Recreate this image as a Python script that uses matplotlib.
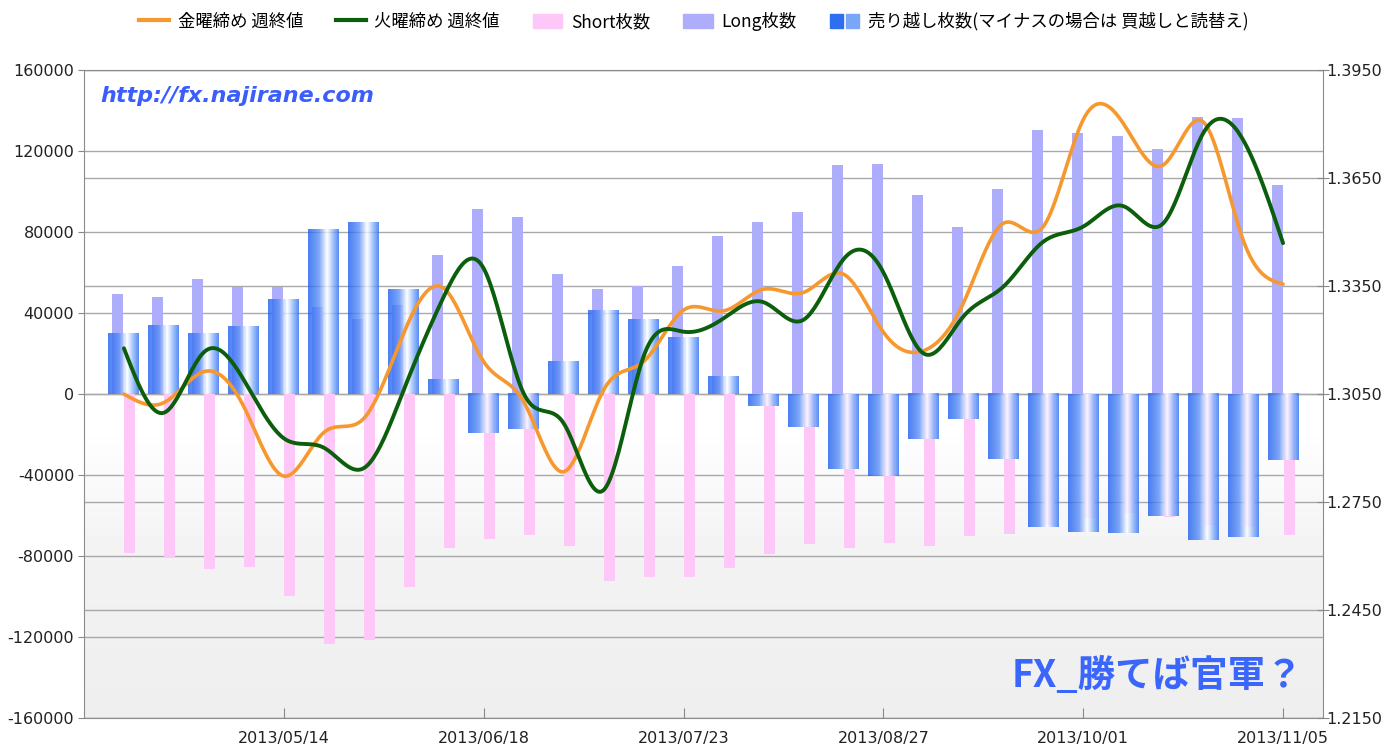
import numpy as np
import matplotlib
matplotlib.use("Agg")
import matplotlib.pyplot as plt
from matplotlib.colors import LinearSegmentedColormap
from matplotlib.lines import Line2D
from matplotlib.patches import Patch
from matplotlib.legend_handler import HandlerTuple

plt.rcParams['font.family'] = ['Noto Sans CJK JP', 'DejaVu Sans']

dates = ["2013/04/16", "2013/04/23", "2013/04/30", "2013/05/07", "2013/05/14",
         "2013/05/21", "2013/05/28", "2013/06/04", "2013/06/11", "2013/06/18",
         "2013/06/25", "2013/07/02", "2013/07/09", "2013/07/16", "2013/07/23",
         "2013/07/30", "2013/08/06", "2013/08/13", "2013/08/20", "2013/08/27",
         "2013/09/03", "2013/09/10", "2013/09/17", "2013/09/24", "2013/10/01",
         "2013/10/08", "2013/10/15", "2013/10/22", "2013/10/29", "2013/11/05"]
tick_labels = ["2013/05/14", "2013/06/18", "2013/07/23", "2013/08/27", "2013/10/01", "2013/11/05"]

long_pos = [49200, 47900, 56900, 53000, 53000, 43100, 36900, 44000, 68600, 91400,
            87400, 59100, 52000, 53300, 63200, 78200, 85100, 90000, 112900, 113600,
            98400, 82600, 101400, 130200, 129000, 127400, 121100, 136900, 136400, 103200]
short_pos = [-78700, -81100, -86200, -85400, -99600, -123600, -121500, -95500, -76200, -71400,
             -69600, -74900, -92300, -90200, -90500, -86100, -78900, -73900, -76200, -73700,
             -75100, -70000, -69000, -64500, -61000, -58800, -60700, -64800, -65800, -69600]
net_short = [30000, 34000, 30000, 33400, 46800, 81000, 84600, 51500, 7200, -19400,
             -17400, 16100, 41200, 37000, 28000, 8600, -5800, -16100, -37000, -40300,
             -22400, -12500, -32100, -65700, -68000, -68600, -60400, -72100, -70600, -32600]

fri_close = [1.3050, 1.3026, 1.3112, 1.3015, 1.2822, 1.2943, 1.2982, 1.3219, 1.3344, 1.3140,
             1.3029, 1.2834, 1.3061, 1.3140, 1.3283, 1.3281, 1.3341, 1.3332, 1.3383, 1.3222,
             1.3170, 1.3302, 1.3524, 1.3515, 1.3812, 1.3802, 1.3686, 1.3806, 1.3478, 1.3355]
tue_close = [1.3177, 1.2998, 1.3166, 1.3089, 1.2927, 1.2901, 1.2844, 1.3061, 1.3320, 1.3399,
             1.3052, 1.2969, 1.2783, 1.3154, 1.3223, 1.3260, 1.3305, 1.3256, 1.3424, 1.3388,
             1.3163, 1.3265, 1.3348, 1.3473, 1.3515, 1.3572, 1.3524, 1.3774, 1.3756, 1.3469]


def spline(x, y, per=24):
    # natural cubic spline, only for drawing the smoothed price lines
    x = np.asarray(x, float)
    y = np.asarray(y, float)
    n = len(x)
    h = np.diff(x)
    A = np.zeros((n, n))
    b = np.zeros(n)
    A[0, 0] = A[-1, -1] = 1
    for i in range(1, n - 1):
        A[i, i - 1] = h[i - 1]
        A[i, i] = 2 * (h[i - 1] + h[i])
        A[i, i + 1] = h[i]
        b[i] = 3 * ((y[i + 1] - y[i]) / h[i] - (y[i] - y[i - 1]) / h[i - 1])
    c = np.linalg.solve(A, b)
    xs, ys = [], []
    for i in range(n - 1):
        bi = (y[i + 1] - y[i]) / h[i] - h[i] * (2 * c[i] + c[i + 1]) / 3
        di = (c[i + 1] - c[i]) / (3 * h[i])
        t = np.linspace(0, h[i], per, endpoint=False)
        xs.append(x[i] + t)
        ys.append(y[i] + bi * t + c[i] * t ** 2 + di * t ** 3)
    xs.append([x[-1]])
    ys.append([y[-1]])
    return np.concatenate(xs), np.concatenate(ys)


x = np.arange(len(dates))
price_lo, price_hi = 1.2150, 1.3950
cnt_lo, cnt_hi = -160000, 160000

fig = plt.figure(figsize=(13.99, 7.47), dpi=100)
ax = fig.add_axes([0.0600, 0.0388, 0.8857, 0.8675])

# background: white on top, light grey towards the bottom
bg = np.interp(np.linspace(1, 0, 200), [0, 0.25, 0.45, 1], [0.935, 0.95, 1.0, 1.0])
ax.imshow(bg.reshape(-1, 1), extent=[0, 1, 0, 1], transform=ax.transAxes,
          cmap="gray", vmin=0, vmax=1, aspect="auto", zorder=0)

grid_c = "#a9a9a9"
left_ticks = np.arange(cnt_lo, cnt_hi + 1, 40000)
right_ticks = np.arange(price_lo, price_hi + 1e-9, 0.03)
for v in left_ticks:
    ax.axhline(v, color=grid_c, lw=1, zorder=0.5)
for p in right_ticks:
    v = cnt_lo + (p - price_lo) / (price_hi - price_lo) * (cnt_hi - cnt_lo)
    ax.axhline(v, color=grid_c, lw=1, zorder=0.5)

# long / short bars
ax.bar(x - 0.15, long_pos, width=0.275, color="#adadfb", zorder=1)
ax.bar(x + 0.15, short_pos, width=0.275, color="#fdc8f8", zorder=1)

# net short bars with cylinder-like gradient
net_cmap = LinearSegmentedColormap.from_list(
    "net", [(0, "#1f5fee"), (0.35, "#5b8ff6"), (0.62, "#ffffff"), (0.82, "#8cb4fa"), (1, "#2f70f2")])
grad = np.linspace(0, 1, 64).reshape(1, -1)
w = 0.775
for xi, v in zip(x, net_short):
    ax.imshow(grad, extent=[xi - w / 2, xi + w / 2, 0, v], cmap=net_cmap,
              aspect="auto", alpha=0.8, zorder=2, interpolation="bilinear")

ax.set_xlim(-1, 30)
ax.set_ylim(cnt_lo, cnt_hi)
ax.set_yticks(left_ticks)
ax.set_yticklabels([f"{v:d}" for v in left_ticks], fontsize=11.5, family="DejaVu Sans", color="#222222")
tick_pos = [dates.index(d) for d in tick_labels]
ax.set_xticks(tick_pos)
ax.set_xticklabels(tick_labels, fontsize=11.5, family="DejaVu Sans", color="#222222")
ax.tick_params(axis="x", direction="in", length=7, color="#888888", pad=9)
ax.tick_params(axis="y", direction="out", length=4, color="#888888", pad=3)
for s in ax.spines.values():
    s.set_color("#8c8c8c")

ax2 = ax.twinx()
ax2.set_ylim(price_lo, price_hi)
ax2.set_yticks(right_ticks)
ax2.set_yticklabels([f"{p:.4f}" for p in right_ticks], fontsize=11.5, family="DejaVu Sans", color="#222222")
ax2.tick_params(axis="y", direction="inout", length=8, color="#888888", pad=-2)
for s in ax2.spines.values():
    s.set_visible(False)

xf, yf = spline(x, fri_close)
xt, yt = spline(x, tue_close)
ax2.plot(xf, yf, color="#f7982e", lw=2.6, solid_capstyle="round")
ax2.plot(xt, yt, color="#0b5e0b", lw=2.8, solid_capstyle="round")
ax2.set_xlim(-1, 30)

ax.text(0.013, 0.96, "http://fx.najirane.com", transform=ax.transAxes, fontsize=16,
        fontweight="bold", style="italic", family="DejaVu Sans", color="#3a5dfc",
        ha="left", va="center", zorder=5)
ax.text(0.866, 0.065, "FX_勝てば官軍？", transform=ax.transAxes, fontsize=27,
        fontweight="bold", style="italic", color="#3a66fb", ha="center", va="center", zorder=5)

handles = [
    Line2D([], [], color="#f7982e", lw=3),
    Line2D([], [], color="#0b5e0b", lw=3),
    Patch(color="#fdc8f8"),
    Patch(color="#adadfb"),
    (Patch(color="#2f6ef2"), Patch(color="#7aa6f8")),
]
labels = ["金曜締め 週終値", "火曜締め 週終値", "Short枚数", "Long枚数",
          "売り越し枚数(マイナスの場合は 買越しと読替え)"]
fig.legend(handles, labels, loc="upper center", bbox_to_anchor=(0.496, 1.005), ncol=5,
           frameon=False, fontsize=12.5, handlelength=1.7, handleheight=0.9, columnspacing=1.9,
           handletextpad=0.5, handler_map={tuple: HandlerTuple(ndivide=None, pad=0.2)})

fig.savefig("out.png", dpi=100)
